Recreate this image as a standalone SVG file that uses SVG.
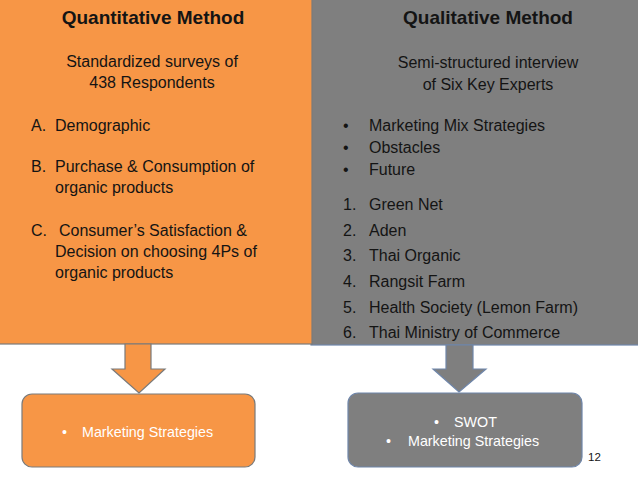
<svg xmlns="http://www.w3.org/2000/svg" width="638" height="479" viewBox="0 0 638 479">
<style>
.t{font-family:"Liberation Sans",Arial,sans-serif;fill:#141414}
.h{font-size:19px;font-weight:bold;text-anchor:middle}
.b{font-size:16px}
.c{text-anchor:middle}
.w{font-family:"Liberation Sans",Arial,sans-serif;fill:#ffffff;font-size:14.3px}
.or{fill:#F79646;stroke:#7a7a7a;stroke-width:1.2}
.gr{fill:#7F7F7F;stroke:#6f86aa;stroke-width:1.2}
</style>
<rect width="638" height="479" fill="#ffffff"/>
<g id="qualitative">
<rect class="gr" x="311" y="-2" width="330" height="347"/>
<text class="t h" x="488" y="24">Qualitative Method</text>
<text class="t b c" x="488" y="68">Semi-structured interview</text>
<text class="t b c" x="488" y="90">of Six Key Experts</text>
<text class="t b" x="343" y="131">•</text><text class="t b" x="369" y="131">Marketing Mix Strategies</text>
<text class="t b" x="343" y="153">•</text><text class="t b" x="369" y="153">Obstacles</text>
<text class="t b" x="343" y="175">•</text><text class="t b" x="369" y="175">Future</text>
<text class="t b" x="343" y="210">1.</text><text class="t b" x="369" y="210">Green Net</text>
<text class="t b" x="343" y="235.5">2.</text><text class="t b" x="369" y="235.5">Aden</text>
<text class="t b" x="343" y="261">3.</text><text class="t b" x="369" y="261">Thai Organic</text>
<text class="t b" x="343" y="287">4.</text><text class="t b" x="369" y="287">Rangsit Farm</text>
<text class="t b" x="343" y="312.5">5.</text><text class="t b" x="369" y="312.5">Health Society (Lemon Farm)</text>
<text class="t b" x="343" y="338">6.</text><text class="t b" x="369" y="338">Thai Ministry of Commerce</text>
</g>
<g id="quantitative">
<rect class="or" x="-2" y="-2" width="314" height="346"/>
<text class="t h" x="153" y="24">Quantitative Method</text>
<text class="t b c" x="152" y="67">Standardized surveys of</text>
<text class="t b c" x="152" y="88">438 Respondents</text>
<text class="t b" x="31" y="131">A.</text><text class="t b" x="55" y="131">Demographic</text>
<text class="t b" x="31" y="172">B.</text><text class="t b" x="55" y="172">Purchase &amp; Consumption of</text>
<text class="t b" x="55" y="193">organic products</text>
<text class="t b" x="31" y="236">C.</text><text class="t b" x="59" y="236">Consumer’s Satisfaction &amp;</text>
<text class="t b" x="55" y="257">Decision on choosing 4Ps of</text>
<text class="t b" x="55" y="278">organic products</text>
</g>
<g id="connectors">
<polygon class="or" points="125,344 151,344 151,369 165,369 139,393 112,369 125,369"/>
<polygon class="gr" points="446,345 473,345 473,369 486,369 459,392 433,369 446,369"/>
</g>
<g id="result-quantitative">
<rect class="or" x="22" y="394" width="233" height="73" rx="10"/>
<text class="w" x="62" y="437">•</text><text class="w" x="82" y="437">Marketing Strategies</text>
</g>
<g id="result-qualitative">
<rect class="gr" x="348" y="393" width="234" height="74" rx="10"/>
<text class="w" x="434" y="427">•</text><text class="w" x="454" y="427">SWOT</text>
<text class="w" x="386" y="446">•</text><text class="w" x="408" y="446">Marketing Strategies</text>
</g>
<text x="588" y="461" style="font-family:'Liberation Sans',Arial,sans-serif;font-size:11.5px;fill:#141414">12</text>
</svg>
